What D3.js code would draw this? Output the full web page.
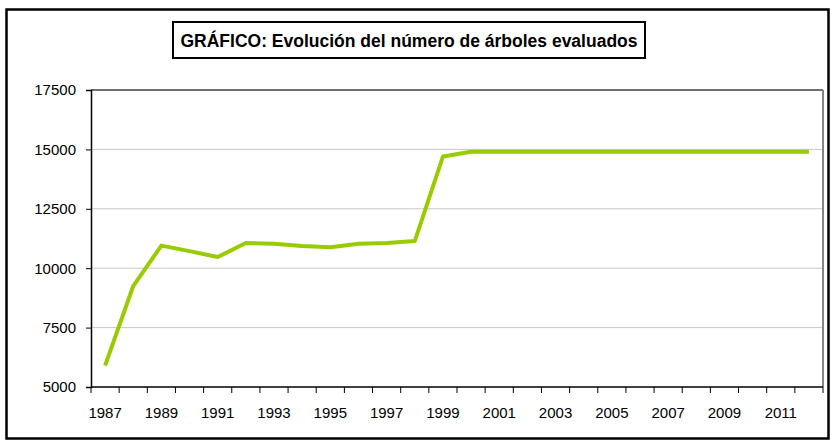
<!DOCTYPE html>
<html>
<head>
<meta charset="utf-8">
<script src="https://cdn.jsdelivr.net/npm/d3@7"></script>
<style>
  html, body { margin: 0; padding: 0; background: #fff; }
  svg { display: block; font-family: "Liberation Sans", Arial, sans-serif; }
</style>
</head>
<body>
<svg id="chart" width="834" height="443"></svg>
<script>
// Number of trees assessed per year
const years = [1987, 1988, 1989, 1990, 1991, 1992, 1993, 1994, 1995, 1996, 1997, 1998, 1999,
               2000, 2001, 2002, 2003, 2004, 2005, 2006, 2007, 2008, 2009, 2010, 2011, 2012];
const trees = [5900, 9250, 10950, 10720, 10470, 11060, 11030, 10930, 10880, 11030, 11060, 11140, 14700,
               14900, 14900, 14900, 14900, 14900, 14900, 14900, 14900, 14900, 14900, 14900, 14900, 14900];
const yTicks = [5000, 7500, 10000, 12500, 15000, 17500];
const labelYears = years.filter(y => y % 2 === 1);
const title = "GRÁFICO: Evolución del número de árboles evaluados";

const svg = d3.select("#chart");
const plot = { left: 91, top: 90, right: 823, bottom: 387 };
const font = "'Liberation Sans', Arial, sans-serif";

// outer frame
svg.append("rect")
  .attr("x", 6.5).attr("y", 9.5).attr("width", 822).attr("height", 429)
  .attr("fill", "none").attr("stroke", "#000").attr("stroke-width", 2.5);

const x = d3.scaleBand().domain(years).range([plot.left, plot.right]).padding(0);
const y = d3.scaleLinear().domain([5000, 17500]).range([plot.bottom, plot.top]);

// horizontal gridlines
svg.append("g").selectAll("line")
  .data(yTicks.filter(t => t > 5000 && t < 17500))
  .join("line")
  .attr("x1", plot.left).attr("x2", plot.right)
  .attr("y1", d => y(d)).attr("y2", d => y(d))
  .attr("stroke", "#c8c8c8").attr("stroke-width", 1);

// plot area border (top and right)
svg.append("line")
  .attr("x1", plot.left).attr("x2", plot.right)
  .attr("y1", plot.top).attr("y2", plot.top)
  .attr("stroke", "#404040").attr("stroke-width", 1.5);
svg.append("line")
  .attr("x1", plot.right).attr("x2", plot.right)
  .attr("y1", plot.top).attr("y2", plot.bottom)
  .attr("stroke", "#858585").attr("stroke-width", 2);

// y axis
const yAxis = svg.append("g")
  .attr("transform", `translate(${plot.left},0)`)
  .call(d3.axisLeft(y).tickValues(yTicks).tickSize(5).tickPadding(10).tickFormat(d3.format("d")));
yAxis.selectAll("text").attr("font-size", 15).attr("fill", "#000").attr("font-family", font);
yAxis.select(".domain").attr("stroke", "#000").attr("stroke-width", 1.5);
yAxis.selectAll(".tick line").attr("stroke", "#000");

// x axis: labels centred in each other year band, tick marks on band edges
const xAxis = svg.append("g")
  .attr("transform", `translate(0,${plot.bottom})`)
  .call(d3.axisBottom(x).tickValues(labelYears).tickSize(0).tickPadding(20));
xAxis.selectAll("text").attr("font-size", 15).attr("fill", "#000").attr("font-family", font);
xAxis.select(".domain").remove();
svg.append("line")
  .attr("x1", plot.left).attr("x2", plot.right)
  .attr("y1", plot.bottom).attr("y2", plot.bottom)
  .attr("stroke", "#000").attr("stroke-width", 1.5);
const edges = years.map(d => x(d)).concat([x(years[years.length - 1]) + x.bandwidth()]);
svg.append("g").selectAll("line")
  .data(edges)
  .join("line")
  .attr("x1", d => d).attr("x2", d => d)
  .attr("y1", plot.bottom).attr("y2", plot.bottom + 6)
  .attr("stroke", "#000").attr("stroke-width", 1);

// data line
const line = d3.line()
  .x((d, i) => x(years[i]) + x.bandwidth() / 2)
  .y(d => y(d));
svg.append("path")
  .datum(trees)
  .attr("d", line)
  .attr("fill", "none")
  .attr("stroke", "#99cc00")
  .attr("stroke-width", 4)
  .attr("stroke-linejoin", "round");

// title box
svg.append("rect")
  .attr("x", 173).attr("y", 22).attr("width", 472).attr("height", 36)
  .attr("fill", "#fff").attr("stroke", "#000").attr("stroke-width", 2);
svg.append("text")
  .attr("x", 409).attr("y", 46.5)
  .attr("text-anchor", "middle")
  .attr("font-size", 17.5).attr("font-weight", "bold")
  .attr("fill", "#000")
  .attr("font-family", font)
  .text(title);
</script>
</body>
</html>
